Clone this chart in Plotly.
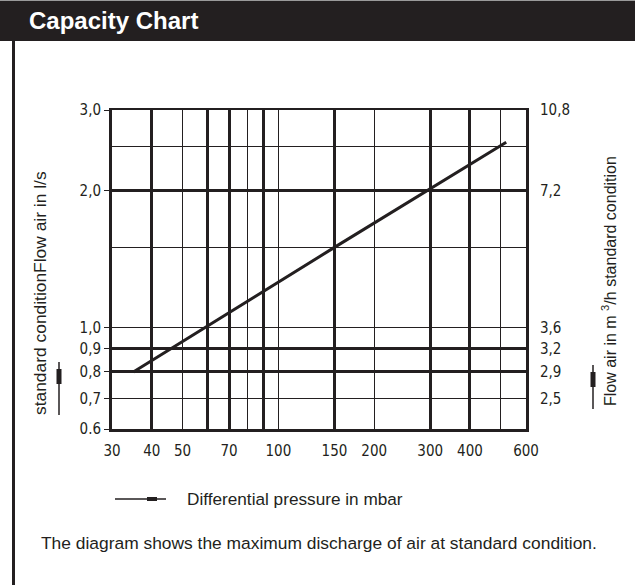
import math
import plotly.graph_objects as go

# ---- data ----
pressure_mbar = [35, 150, 520]
flow_ls = [0.80, 1.50, 2.55]

x_tick_vals = [30, 40, 50, 70, 100, 150, 200, 300, 400, 600]
x_tick_text = ["30", "40", "50", "70", "100", "150", "200", "300", "400", "600"]
x_thick_grid = [40, 60, 70, 90, 150, 300, 400]
x_thin_grid = [50, 80, 100, 200, 500]

y_tick_vals = [0.6, 0.7, 0.8, 0.9, 1.0, 2.0, 3.0]
y_tick_text = ["0.6", "0,7", "0,8", "0,9", "1,0", "2,0", "3,0"]
y2_tick_vals = [0.7, 0.8, 0.9, 1.0, 2.0, 3.0]
y2_tick_text = ["2,5", "2,9", "3,2", "3,6", "7,2", "10,8"]
y_thick_grid = [0.8, 0.9, 2.0]
y_thin_grid = [0.7, 1.0, 1.5, 2.5]

x_range = [30, 600]
y_range = [0.6, 3.0]

title_text = "Capacity Chart"
left_title = "standard conditionFlow air in l/s"
right_title = "Flow air in m <sup>3</sup>/h standard condition"
legend_text = "Differential pressure in mbar"
footer_text = "The diagram shows the maximum discharge of air at standard condition."

W, H = 635, 585
INK = "#231f20"
TICKFONT = dict(family="Liberation Sans Narrow, DejaVu Sans Condensed, Arial Narrow, sans-serif",
                size=15, color=INK)
TEXTFONT = "Liberation Sans, Arial, sans-serif"


def px(x):
    return x / W


def py(y):
    return 1 - y / H


xr = [math.log10(x_range[0]), math.log10(x_range[1])]
yr = [math.log10(y_range[0]), math.log10(y_range[1])]

fig = go.Figure()
fig.add_trace(go.Scatter(x=pressure_mbar, y=flow_ls, mode="lines",
                         line=dict(color=INK, width=3), showlegend=False,
                         hoverinfo="skip"))
fig.add_trace(go.Scatter(x=pressure_mbar, y=flow_ls, mode="lines", xaxis="x2", yaxis="y2",
                         line=dict(color=INK, width=3), opacity=0, showlegend=False,
                         hoverinfo="skip"))

dom_x = [px(112), px(526)]
dom_y = [py(429), py(110)]

fig.update_layout(
    template="none",
    width=W, height=H, autosize=False,
    margin=dict(l=0, r=0, t=0, b=0, pad=0, autoexpand=False),
    paper_bgcolor="white", plot_bgcolor="white",
    showlegend=False,
    xaxis=dict(type="log", range=xr, domain=dom_x, anchor="y", automargin=False,
               tickmode="array", tickvals=x_tick_vals, ticktext=x_tick_text,
               ticks="", showgrid=False, zeroline=False,
               showline=True, linecolor=INK, linewidth=3,
               tickfont=TICKFONT, ticklabelstandoff=6,
               minor=dict(tickmode="array", tickvals=x_thin_grid, showgrid=True,
                          gridcolor=INK, gridwidth=1.2, ticks="")),
    xaxis2=dict(type="log", range=xr, domain=dom_x, overlaying="x", side="top", anchor="y",
                automargin=False,
                tickmode="array", tickvals=x_thick_grid, showticklabels=False,
                ticks="", showgrid=True, gridcolor=INK, gridwidth=2.6, zeroline=False,
                showline=True, linecolor=INK, linewidth=1.5),
    yaxis=dict(type="log", range=yr, domain=dom_y, anchor="x", automargin=False,
               tickmode="array", tickvals=y_tick_vals, ticktext=y_tick_text,
               ticks="outside", ticklen=5, tickwidth=1.2, tickcolor=INK,
               showgrid=False, zeroline=False,
               showline=True, linecolor=INK, linewidth=3,
               tickfont=TICKFONT,
               minor=dict(tickmode="array", tickvals=y_thin_grid, showgrid=True,
                          gridcolor=INK, gridwidth=1.2, ticks="")),
    yaxis2=dict(type="log", range=yr, domain=dom_y, overlaying="y", side="right", anchor="x",
                automargin=False,
                tickmode="array", tickvals=y2_tick_vals, ticktext=y2_tick_text,
                ticks="", showgrid=False, zeroline=False,
                showline=True, linecolor=INK, linewidth=3,
                tickfont=TICKFONT, ticklabelstandoff=8,
                minor=dict(tickmode="array", tickvals=y_thick_grid, showgrid=True,
                           gridcolor=INK, gridwidth=2.6, ticks="")),
)

shapes = [
    # header bar
    dict(type="rect", xref="paper", yref="paper", x0=0, x1=1, y0=py(41), y1=1,
         fillcolor=INK, line=dict(width=0), layer="below"),
    dict(type="line", xref="paper", yref="paper", x0=0, x1=1, y0=py(0.5), y1=py(0.5),
         line=dict(color="#9a9a9a", width=1)),
    # left border
    dict(type="line", xref="paper", yref="paper", x0=px(13.5), x1=px(13.5), y0=0, y1=py(41),
         line=dict(color=INK, width=3)),
    # left axis symbol
    dict(type="line", xref="paper", yref="paper", x0=px(59), x1=px(59), y0=py(362), y1=py(415),
         line=dict(color=INK, width=1.5)),
    dict(type="rect", xref="paper", yref="paper", x0=px(56.5), x1=px(61.5), y0=py(384), y1=py(369),
         fillcolor=INK, line=dict(width=0)),
    # right axis symbol
    dict(type="line", xref="paper", yref="paper", x0=px(593), x1=px(593), y0=py(365), y1=py(409),
         line=dict(color=INK, width=1.5)),
    dict(type="rect", xref="paper", yref="paper", x0=px(590.5), x1=px(595.5), y0=py(387), y1=py(372),
         fillcolor=INK, line=dict(width=0)),
    # legend symbol for the x axis
    dict(type="line", xref="paper", yref="paper", x0=px(115), x1=px(166), y0=py(499), y1=py(499),
         line=dict(color=INK, width=1.5)),
    dict(type="rect", xref="paper", yref="paper", x0=px(147), x1=px(157), y0=py(501), y1=py(497),
         fillcolor=INK, line=dict(width=0)),
]

annotations = [
    dict(text="<b>" + title_text + "</b>", xref="paper", yref="paper", x=px(27), y=py(21),
         xanchor="left", yanchor="middle", showarrow=False,
         font=dict(family=TEXTFONT, size=24, color="white")),
    dict(text=left_title, xref="paper", yref="paper", x=px(40), y=py(293), textangle=-90,
         xanchor="center", yanchor="middle", showarrow=False,
         font=dict(family=TEXTFONT, size=17.4, color=INK)),
    dict(text=right_title, xref="paper", yref="paper", x=px(609), y=py(281), textangle=-90,
         xanchor="center", yanchor="middle", showarrow=False,
         font=dict(family=TEXTFONT, size=16, color=INK)),
    dict(text=legend_text, xref="paper", yref="paper", x=px(185), y=py(499),
         xanchor="left", yanchor="middle", showarrow=False,
         font=dict(family=TEXTFONT, size=17.2, color=INK)),
    dict(text=footer_text, xref="paper", yref="paper", x=px(39), y=py(543),
         xanchor="left", yanchor="middle", showarrow=False,
         font=dict(family=TEXTFONT, size=17.4, color=INK)),
]

fig.update_layout(shapes=shapes, annotations=annotations)

fig.write_html(
    "out.html",
    config={"displayModeBar": False},
    post_script="document.body.style.margin='0';document.body.style.padding='0';"
                "document.documentElement.style.overflow='hidden';",
)
